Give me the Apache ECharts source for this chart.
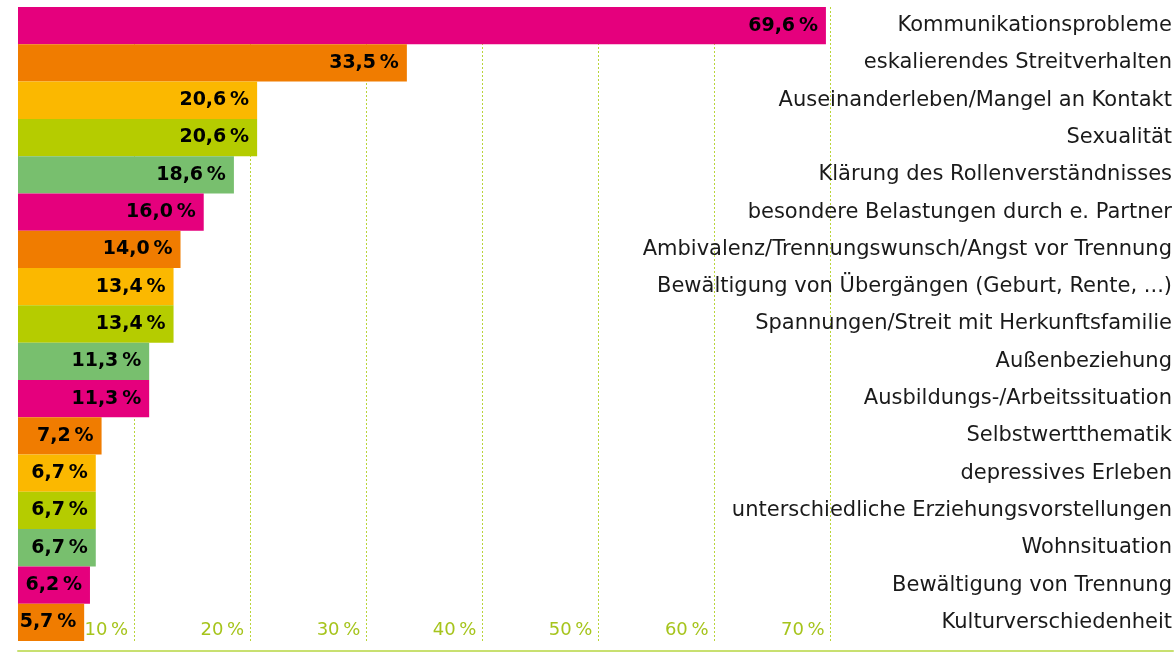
<!DOCTYPE html>
<html>
<head>
<meta charset="utf-8">
<script src="https://cdn.jsdelivr.net/npm/echarts@6/dist/echarts.min.js"></script>
<style>
  html, body { margin: 0; padding: 0; background: #fff; }
  #chart { width: 1176px; height: 653px; }
</style>
</head>
<body>
<div id="chart"></div>
<script>
// Themen in der Paarberatung, Anteil in Prozent
var categories = [
  "Kommunikationsprobleme",
  "eskalierendes Streitverhalten",
  "Auseinanderleben/Mangel an Kontakt",
  "Sexualität",
  "Klärung des Rollenverständnisses",
  "besondere Belastungen durch e. Partner",
  "Ambivalenz/Trennungswunsch/Angst vor Trennung",
  "Bewältigung von Übergängen (Geburt, Rente, ...)",
  "Spannungen/Streit mit Herkunftsfamilie",
  "Außenbeziehung",
  "Ausbildungs-/Arbeitssituation",
  "Selbstwertthematik",
  "depressives Erleben",
  "unterschiedliche Erziehungsvorstellungen",
  "Wohnsituation",
  "Bewältigung von Trennung",
  "Kulturverschiedenheit"
];
var values = [69.6, 33.5, 20.6, 20.6, 18.6, 16.0, 14.0, 13.4, 13.4, 11.3, 11.3, 7.2, 6.7, 6.7, 6.7, 6.2, 5.7];
var tickValues = [10, 20, 30, 40, 50, 60, 70];

var palette = ["#e5007d", "#f07c00", "#fbb800", "#b5cc00", "#78bf6e"];
var gridGreen = "#b9d43a";

var chart = echarts.init(document.getElementById("chart"));

// nur Linien bis 70 % zeigen
var lineColors = [];
for (var i = 0; i <= 10; i++) {
  lineColors.push(i <= 7 ? gridGreen : "rgba(0,0,0,0)");
}

var option = {
  animation: false,
  grid: { left: 18, right: 0, top: 7, bottom: 12 },
  xAxis: {
    type: "value",
    min: 0,
    max: 99.5,
    interval: 10,
    offset: 10,
    axisLine: { show: true, lineStyle: { color: "#c8e070", width: 2 } },
    axisTick: { show: false },
    splitLine: {
      show: true,
      lineStyle: { color: lineColors, type: [2, 2], width: 1 }
    },
    axisLabel: {
      inside: true,
      margin: 12,
      align: "right",
      padding: [0, 6, 0, 0],
      color: "#a6c41c",
      fontFamily: "DejaVu Sans",
      fontSize: 18,
      formatter: function (v) {
        return tickValues.indexOf(v) >= 0 ? v + "\u2009%" : "";
      }
    }
  },
  yAxis: {
    type: "category",
    data: categories,
    inverse: true,
    position: "right",
    axisLine: { show: false },
    axisTick: { show: false },
    splitLine: { show: false },
    axisLabel: {
      inside: true,
      margin: 1,
      align: "right",
      color: "#1a1a1a",
      fontFamily: "DejaVu Sans",
      fontSize: 21
    }
  },
  series: [{
    type: "bar",
    data: values.map(function (v, i) {
      return { value: v, itemStyle: { color: palette[i % palette.length] } };
    }),
    barCategoryGap: 0,
    label: {
      show: true,
      position: "insideRight",
      offset: [-3, 0],
      color: "#000",
      fontFamily: "DejaVu Sans",
      fontWeight: "bold",
      fontSize: 19,
      formatter: function (p) {
        return p.value.toFixed(1).replace(".", ",") + "\u2009%";
      }
    }
  }]
};

chart.setOption(option);
</script>
</body>
</html>
